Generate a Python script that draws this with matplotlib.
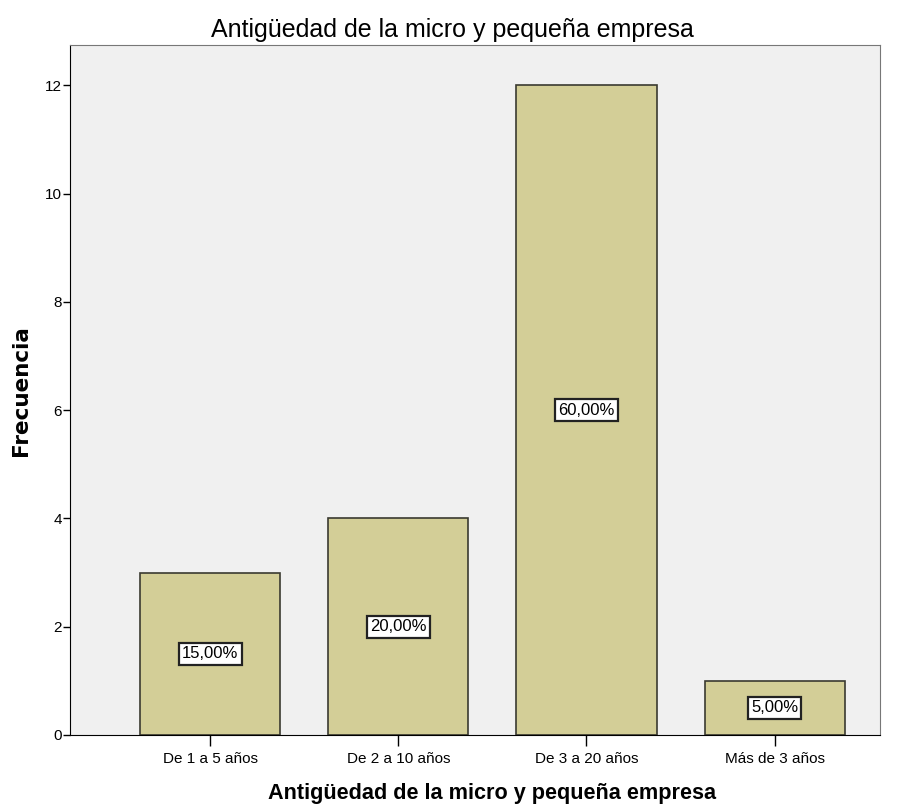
import matplotlib.pyplot as plt

categories = ['De 1 a 5 años', 'De 2 a 10 años', 'De 3 a 20 años', 'Más de 3 años']
counts = [3, 4, 12, 1]
pct_labels = ['15,00%', '20,00%', '60,00%', '5,00%']

plt.rcParams['font.family'] = ['Liberation Sans', 'DejaVu Sans']

fig = plt.figure(figsize=(8.97, 8.09), dpi=100)
ax = fig.add_axes([0.078, 0.0915, 0.903, 0.8525])
ax.set_facecolor('#f0f0f0')

x = range(len(categories))
ax.bar(x, counts, width=0.745, color='#d3ce97', edgecolor='#3a3a30', linewidth=1.2, zorder=2)

for xi, c, lab in zip(x, counts, pct_labels):
    ax.text(xi, c / 2, lab, ha='center', va='center', fontsize=12, zorder=3,
            bbox=dict(boxstyle='square,pad=0.2', facecolor='white', edgecolor='#222222', linewidth=1.6))

ax.set_xlim(-0.745, 3.56)
ax.set_ylim(0, 12.74)
ax.set_xticks(list(x))
ax.set_xticklabels(categories, fontsize=11)
ax.set_yticks([0, 2, 4, 6, 8, 10, 12])
ax.tick_params(axis='y', length=5, width=1, labelsize=11, pad=1)
ax.tick_params(axis='x', length=8, width=1, pad=4)

for s in ['top', 'right']:
    ax.spines[s].set_color('#777777')
for s in ['left', 'bottom']:
    ax.spines[s].set_color('black')

ax.set_title('Antigüedad de la micro y pequeña empresa', fontsize=18, x=0.472, pad=6)
ax.set_xlabel('Antigüedad de la micro y pequeña empresa', fontsize=15.6, fontweight='bold')
ax.xaxis.set_label_coords(0.521, -0.085)
ax.xaxis.label.set_va('center')
ax.set_ylabel('Frecuencia', fontsize=15.5, fontweight='bold', family='DejaVu Sans', labelpad=10)

fig.savefig('out.png', dpi=100)
